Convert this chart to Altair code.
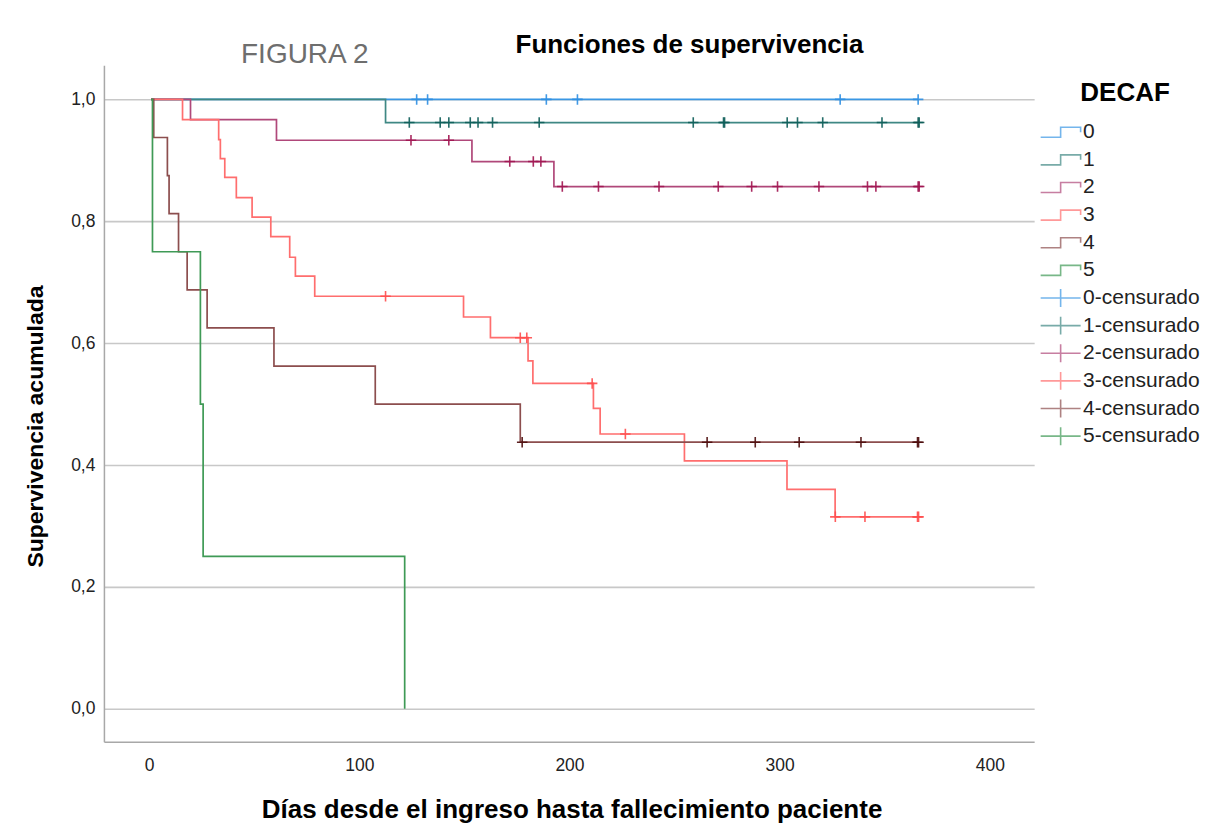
import altair as alt
import pandas as pd

# ---------------- data ----------------
groups = ["0", "1", "2", "3", "4", "5"]

# Kaplan-Meier step curves: time (days) and cumulative survival after that time
g0_t = [1, 365.9]
g0_s = [1.0, 1.0]
g1_t = [1, 112.5, 365.9]
g1_s = [1.0, 0.962, 0.962]
g2_t = [1, 19.7, 60.6, 153.6, 192.6, 365.9]
g2_s = [1.0, 0.967, 0.933, 0.898, 0.857, 0.857]
g3_t = [1, 15.9, 33.1, 33.9, 36.0, 41.5, 49.0, 57.9, 66.9, 69.6, 78.8,
        149.6, 162.4, 180.3, 182.6, 211.4, 214.6, 254.7, 303.5, 326.4, 365.6]
g3_s = [1.0, 0.967, 0.934, 0.903, 0.872, 0.839, 0.807, 0.775, 0.741, 0.710, 0.677,
        0.643, 0.609, 0.571, 0.534, 0.493, 0.451, 0.407, 0.360, 0.315, 0.315]
g4_t = [1, 2.2, 8.7, 9.5, 14.0, 18.1, 27.6, 59.4, 107.6, 176.6, 365.6]
g4_s = [1.0, 0.9375, 0.875, 0.8125, 0.75, 0.6875, 0.625, 0.5625, 0.5, 0.4375, 0.4375]
g5_t = [1, 1.6, 24.4, 25.7, 121.6]
g5_s = [1.0, 0.75, 0.5, 0.25, 0.0]

# censored observations (time, survival level)
c0_t = [127.3, 132.5, 189.0, 203.8, 328.8, 365.9]
c0_s = [1.0, 1.0, 1.0, 1.0, 1.0, 1.0]
c1_t = [123.8, 138.5, 142.6, 152.8, 156.5, 163.4, 185.6, 258.9, 273.3, 273.8,
        303.6, 308.5, 320.5, 348.7, 365.9, 366.4]
c1_s = [0.962] * 16
c2_t = [124.6, 142.6, 171.6, 182.8, 186.4, 196.6, 213.8, 242.6, 270.8, 286.7,
        299.0, 318.7, 341.8, 345.8, 365.9, 366.4]
c2_s = [0.933, 0.933, 0.898, 0.898, 0.898, 0.857, 0.857, 0.857, 0.857, 0.857,
        0.857, 0.857, 0.857, 0.857, 0.857, 0.857]
c3_t = [112.5, 176.6, 179.7, 210.8, 226.6, 326.5, 340.6, 365.6, 366.1]
c3_s = [0.677, 0.609, 0.609, 0.534, 0.451, 0.315, 0.315, 0.315, 0.315]
c4_t = [177.5, 265.5, 288.4, 309.3, 338.7, 365.6, 366.1]
c4_s = [0.4375] * 7
c5_t = []
c5_s = []

line_colors = ["#3a97e4", "#3f8884", "#b0487a", "#ff6e6e", "#8c4e4e", "#3f9a56"]
censor_colors = ["#2d8fe3", "#0e5e59", "#a11450", "#ff4d4d", "#4c0c0c", "#2e8b45"]

legend_labels = groups + [g + "-censurado" for g in groups]
x_ticks = [0, 100, 200, 300, 400]
y_ticks = [0.0, 0.2, 0.4, 0.6, 0.8, 1.0]

# ---------------- build tables ----------------
step_t = [g0_t, g1_t, g2_t, g3_t, g4_t, g5_t]
step_s = [g0_s, g1_s, g2_s, g3_s, g4_s, g5_s]
cen_t = [c0_t, c1_t, c2_t, c3_t, c4_t, c5_t]
cen_s = [c0_s, c1_s, c2_s, c3_s, c4_s, c5_s]

rows = []
for g, ts, ss in zip(groups, step_t, step_s):
    for t, s in zip(ts, ss):
        rows.append({"grp": g, "dias": t, "surv": s})
lines_df = pd.DataFrame(rows)

crow = []
for g, ts, ss in zip(groups, cen_t, cen_s):
    for t, s in zip(ts, ss):
        crow.append({"grp": g + "c", "dias": t, "surv": s})
cens_df = pd.DataFrame(crow)

leg_df = pd.DataFrame({"dias": pd.Series([], dtype=float),
                       "surv": pd.Series([], dtype=float),
                       "entry": pd.Series([], dtype=str)})

FONT = "Liberation Sans"

stroke_scale = alt.Scale(domain=groups + [g + "c" for g in groups],
                         range=line_colors + censor_colors)
xs = alt.Scale(domain=[-21.5, 421.1], nice=False, zero=False)
ys = alt.Scale(domain=[-0.054, 1.056], nice=False, zero=False)

x_axis = alt.Axis(values=x_ticks, grid=False, ticks=False, domain=True,
                  domainColor="#a8a8a8", domainWidth=1.5,
                  labelFont=FONT, labelFontSize=17.5, labelColor="#222222",
                  labelPadding=15,
                  title="Días desde el ingreso hasta fallecimiento paciente",
                  titleFont=FONT, titleFontSize=26, titleFontWeight="bold",
                  titleColor="#000000", titleX=468, titleY=76,
                  titleBaseline="alphabetic", titleAlign="center")
y_axis = alt.Axis(values=y_ticks, grid=True, gridColor="#c8c8c8", gridWidth=1.6,
                  ticks=False, domain=True, domainColor="#a8a8a8", domainWidth=1.5,
                  labelFont=FONT, labelFontSize=17.5, labelColor="#222222",
                  labelPadding=9,
                  labelExpr="replace(format(datum.value, '.1f'), '.', ',')",
                  title="Supervivencia acumulada",
                  titleFont=FONT, titleFontSize=23, titleFontWeight="bold",
                  titleColor="#000000", titleAngle=270, titleX=-61, titleY=361,
                  titleBaseline="alphabetic", titleAlign="center")

lines = alt.Chart(lines_df).mark_line(interpolate="step-after", strokeWidth=1.7).encode(
    x=alt.X("dias:Q", scale=xs, axis=x_axis),
    y=alt.Y("surv:Q", scale=ys, axis=y_axis),
    stroke=alt.Stroke("grp:N", scale=stroke_scale, legend=None),
)

cens = alt.Chart(cens_df).mark_point(shape="M0,-1V1M-1,0H1", size=110, filled=False,
                                     strokeWidth=1.6, opacity=0.9).encode(
    x=alt.X("dias:Q", scale=xs, axis=x_axis),
    y=alt.Y("surv:Q", scale=ys, axis=y_axis),
    stroke=alt.Stroke("grp:N", scale=stroke_scale, legend=None),
)

# legend symbol paths (drawn at symbolSize 100 -> 5 px per unit);
# the trailing moves give both symbol kinds the same vertical extent
step_path = "M-4,1H0V-1H4V0M0,-1.8M0,1.8"
cens_path = "M-4,0H4M0,-1.8V1.8"
leg = alt.Legend(title="DECAF", orient="none", legendX=947, legendY=15,
                 symbolSize=100, symbolStrokeWidth=1.6, symbolFillColor="transparent",
                 labelFont=FONT, labelFontSize=21, labelColor="#222222", labelOffset=12,
                 rowPadding=2.65, titleFont=FONT, titleFontSize=26, titleFontWeight="bold",
                 titleColor="#000000", titleAnchor="middle", titleAlign="center",
                 titlePadding=15.5, padding=0, symbolLimit=0)

legend_layer = alt.Chart(leg_df).mark_point(filled=False, strokeWidth=1.6).encode(
    x=alt.X("dias:Q", scale=xs, axis=x_axis),
    y=alt.Y("surv:Q", scale=ys, axis=y_axis),
    color=alt.Color("entry:N", scale=alt.Scale(domain=legend_labels,
                                                range=line_colors + line_colors), legend=leg),
    shape=alt.Shape("entry:N", scale=alt.Scale(domain=legend_labels,
                                                range=[step_path] * 6 + [cens_path] * 6), legend=leg),
)

fig_df = pd.DataFrame({"t": ["FIGURA 2"]})
fig_text = alt.Chart(fig_df).mark_text(font=FONT, fontSize=28, color="#6e6e6e",
                                       align="center", baseline="alphabetic").encode(
    x=alt.value(201), y=alt.value(-2), text="t:N")

title_df = pd.DataFrame({"t": ["Funciones de supervivencia"]})
title_text = alt.Chart(title_df).mark_text(font=FONT, fontSize=26, fontWeight="bold",
                                           color="#000000", align="center",
                                           baseline="alphabetic").encode(
    x=alt.value(586), y=alt.value(-12), text="t:N")

chart = alt.layer(lines, cens, legend_layer, fig_text, title_text).properties(
    width=931, height=677,
    padding={"left": 96, "top": 57, "right": 190, "bottom": 83},
    autosize=alt.AutoSizeParams(type="none"),
    background="white",
).configure_view(stroke=None)

chart.save("out.html", embed_options={"renderer": "svg", "actions": False})
